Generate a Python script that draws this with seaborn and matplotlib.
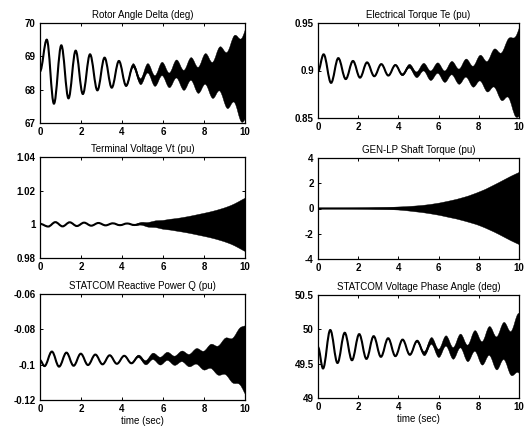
import numpy as np
import pandas as pd
import seaborn as sns
import matplotlib
matplotlib.use("Agg")
import matplotlib.pyplot as plt
from matplotlib.path import Path
from matplotlib.patches import PathPatch

# ---------------- data ----------------
# Each signal: times of the low-frequency extrema, the value at each
# extremum, and the half-width of the fast (torsional) oscillation band.
rotor_t = [0.00, 0.33, 0.68, 1.04, 1.39, 1.74, 2.09, 2.44, 2.80, 3.15, 3.50, 3.85, 4.20, 4.55, 4.91,
           5.26, 5.61, 5.96, 6.31, 6.66, 7.02, 7.37, 7.72, 8.07, 8.42, 8.77, 9.13, 9.48, 9.83, 10.18]
rotor_y = [68.55, 69.50, 67.58, 69.33, 67.74, 69.17, 67.87, 69.06, 67.98, 68.96, 68.06, 68.86, 68.12, 68.72, 68.24,
           68.64, 68.26, 68.62, 68.28, 68.62, 68.28, 68.62, 68.28, 68.62, 68.28, 68.62, 68.28, 68.62, 68.28, 68.62]
rotor_hw = [0, 0, 0, 0, 0, 0, 0, 0, 0, 0, 0, 0.01, 0.03, 0.06, 0.09,
            0.14, 0.16, 0.20, 0.22, 0.27, 0.30, 0.34, 0.39, 0.46, 0.54, 0.66, 0.84, 1.00, 1.25, 1.40]

te_t = [0.00, 0.28, 0.65, 1.01, 1.38, 1.74, 2.09, 2.44, 2.80, 3.15, 3.50, 3.85, 4.20, 4.55, 4.91,
        5.26, 5.61, 5.96, 6.31, 6.66, 7.02, 7.37, 7.72, 8.07, 8.42, 8.77, 9.13, 9.48, 9.83, 10.18]
te_y = [0.899, 0.917, 0.887, 0.913, 0.891, 0.910, 0.8925, 0.9085, 0.894, 0.9067, 0.8947, 0.9057, 0.8955, 0.9045, 0.8955,
        0.9035, 0.8945, 0.9025, 0.8935, 0.9025, 0.8935, 0.9025, 0.8935, 0.9025, 0.8935, 0.9025, 0.8935, 0.9025, 0.8935, 0.9025]
te_hw = [0, 0, 0, 0, 0, 0, 0, 0, 0, 0, 0, 0.0005, 0.001, 0.002, 0.003,
         0.004, 0.005, 0.0055, 0.006, 0.007, 0.008, 0.0095, 0.011, 0.0135, 0.016, 0.020, 0.025, 0.031, 0.042, 0.050]

vt_t = [0.00, 0.40, 0.75, 1.10, 1.45, 1.80, 2.15, 2.50, 2.85, 3.20, 3.55, 3.90, 4.25, 4.60, 4.95,
        5.30, 5.65, 6.00, 6.35, 6.70, 7.05, 7.40, 7.75, 8.10, 8.45, 8.80, 9.15, 9.50, 9.85, 10.20]
vt_y = [1.0003, 0.9987, 1.0013, 0.9988, 1.0012, 0.9990, 1.0010, 0.9992, 1.0008, 0.9994, 1.0006, 0.9995, 1.0005, 0.9996, 1.0003,
        0.9997, 1.0001, 0.9997, 0.9998, 0.9997, 0.9997, 0.9997, 0.9997, 0.9997, 0.9997, 0.9997, 0.9997, 0.9997, 0.9997, 0.9997]
vt_hw = [0, 0, 0, 0, 0, 0, 0, 0, 0, 0, 0, 0, 0, 0.0003, 0.0008,
         0.0014, 0.0020, 0.0026, 0.0032, 0.0038, 0.0045, 0.0053, 0.0062, 0.0071, 0.0081, 0.0093, 0.0107, 0.0125, 0.0148, 0.0170]

shaft_t = [0.0, 1.0, 2.0, 3.0, 4.0, 4.8, 5.6, 6.5, 7.3, 8.1, 9.0, 9.6, 10.0, 10.4]
shaft_y = [0.0, 0.0, 0.0, 0.0, 0.0, -0.03, -0.05, -0.06, -0.05, -0.02, 0.0, 0.0, 0.0, 0.0]
shaft_hw = [0.03, 0.03, 0.04, 0.06, 0.12, 0.22, 0.37, 0.64, 0.95, 1.38, 2.05, 2.55, 2.85, 3.15]

q_t = [0.00, 0.22, 0.58, 0.93, 1.29, 1.64, 1.99, 2.34, 2.70, 3.05, 3.40, 3.75, 4.11, 4.46, 4.81,
       5.16, 5.52, 5.87, 6.22, 6.57, 6.93, 7.28, 7.64, 7.99, 8.34, 8.69, 9.05, 9.40, 9.75, 10.10]
q_y = [-0.0975, -0.1008, -0.0926, -0.1011, -0.0932, -0.1006, -0.0938, -0.1002, -0.0943, -0.0998, -0.0947, -0.0995, -0.0950, -0.0992, -0.0953,
       -0.0989, -0.0953, -0.0980, -0.0953, -0.0978, -0.0953, -0.0977, -0.0953, -0.0977, -0.0953, -0.0977, -0.0953, -0.0977, -0.0953, -0.0977]
q_hw = [0, 0, 0, 0, 0, 0, 0, 0, 0, 0, 0, 0, 0, 0.0003, 0.0007,
        0.0012, 0.0018, 0.0022, 0.0023, 0.0026, 0.0030, 0.0035, 0.0044, 0.0053, 0.0068, 0.0082, 0.0103, 0.0126, 0.0160, 0.0205]

phase_t = [0.00, 0.25, 0.61, 0.97, 1.33, 1.69, 2.05, 2.41, 2.77, 3.13, 3.49, 3.85, 4.21, 4.57, 4.93,
           5.29, 5.65, 6.01, 6.37, 6.73, 7.09, 7.45, 7.81, 8.17, 8.53, 8.89, 9.25, 9.61, 9.97, 10.33]
phase_y = [49.74, 49.43, 49.99, 49.51, 49.95, 49.55, 49.93, 49.57, 49.90, 49.60, 49.87, 49.61, 49.85, 49.63, 49.83,
           49.645, 49.83, 49.65, 49.83, 49.65, 49.83, 49.65, 49.83, 49.65, 49.83, 49.65, 49.83, 49.65, 49.80, 49.65]
phase_hw = [0, 0, 0, 0, 0, 0, 0, 0, 0, 0, 0, 0, 0, 0.005, 0.015,
            0.03, 0.05, 0.06, 0.075, 0.085, 0.10, 0.12, 0.15, 0.17, 0.21, 0.24, 0.27, 0.32, 0.43, 0.46]

titles = ["Rotor Angle Delta (deg)", "Electrical Torque Te (pu)",
          "Terminal Voltage Vt (pu)", "GEN-LP Shaft Torque (pu)",
          "STATCOM Reactive Power Q (pu)", "STATCOM Voltage Phase Angle (deg)"]
x_ticks = [0, 2, 4, 6, 8, 10]
x_ticklabels = ["0", "2", "4", "6", "8", "10"]
rotor_yticks, rotor_ylabels = [67, 68, 69, 70], ["67", "68", "69", "70"]
te_yticks, te_ylabels = [0.85, 0.9, 0.95], ["0.85", "0.9", "0.95"]
vt_yticks, vt_ylabels = [0.98, 1.0, 1.02, 1.04], ["0.98", "1", "1.02", "1.04"]
shaft_yticks, shaft_ylabels = [-4, -2, 0, 2, 4], ["-4", "-2", "0", "2", "4"]
q_yticks, q_ylabels = [-0.12, -0.1, -0.08, -0.06], ["-0.12", "-0.1", "-0.08", "-0.06"]
phase_yticks, phase_ylabels = [49, 49.5, 50, 50.5], ["49", "49.5", "50", "50.5"]
x_label = "time (sec)"

# ---------------- style ----------------
sns.set_theme(style="ticks")
plt.rcParams['font.family'] = ['Liberation Sans', 'DejaVu Sans']
plt.rcParams.update({
    "xtick.direction": "in", "ytick.direction": "in",
    "xtick.top": True, "ytick.right": True,
    "xtick.major.size": 2.5, "ytick.major.size": 2.5,
    "xtick.major.width": 0.7, "ytick.major.width": 0.7,
    "axes.linewidth": 0.9, "axes.edgecolor": "black",
})

W, H = 527, 426
fig = plt.figure(figsize=(W / 100, H / 100), dpi=100)
fig.patch.set_facecolor("white")

# axes boxes in pixels: left, top, right, bottom
boxes = [(40, 23, 245, 123), (318, 23, 519, 118),
         (40, 157, 245, 258), (318, 158, 519, 259),
         (40, 294, 245, 400), (318, 295, 519, 398)]

signals = [(rotor_t, rotor_y, rotor_hw, rotor_yticks, rotor_ylabels),
           (te_t, te_y, te_hw, te_yticks, te_ylabels),
           (vt_t, vt_y, vt_hw, vt_yticks, vt_ylabels),
           (shaft_t, shaft_y, shaft_hw, shaft_yticks, shaft_ylabels),
           (q_t, q_y, q_hw, q_yticks, q_ylabels),
           (phase_t, phase_y, phase_hw, phase_yticks, phase_ylabels)]


def bezier_chain(ts, ys, slopes, k=0.364):
    verts = [(ts[0], ys[0])]
    codes = [Path.MOVETO]
    for i in range(len(ts) - 1):
        dt = ts[i + 1] - ts[i]
        verts += [(ts[i] + k * dt, ys[i] + k * dt * slopes[i]),
                  (ts[i + 1] - k * dt, ys[i + 1] - k * dt * slopes[i + 1]),
                  (ts[i + 1], ys[i + 1])]
        codes += [Path.CURVE4] * 3
    return verts, codes


for idx, (box, sig, title) in enumerate(zip(boxes, signals, titles)):
    l, t, r, b = box
    ax = fig.add_axes([l / W, 1 - b / H, (r - l) / W, (b - t) / H])
    ts, ys, hw, yt, yl = sig
    df = pd.DataFrame({"t": ts, "y": ys, "hw": hw})
    tt = df["t"].to_numpy(float)
    yy = df["y"].to_numpy(float)
    hh = df["hw"].to_numpy(float)
    dh = np.gradient(hh, tt)
    flat = np.zeros_like(tt)
    # band of the fast oscillation
    up_v, up_c = bezier_chain(tt, yy + hh, dh)
    lo_v, lo_c = bezier_chain(tt, yy - hh, -dh)
    verts = up_v + lo_v[::-1] + [lo_v[0]]
    codes = up_c + [Path.LINETO] + [Path.CURVE4] * (len(lo_v) - 1) + [Path.CLOSEPOLY]
    ax.add_patch(PathPatch(Path(verts, codes), facecolor="black", edgecolor="black", lw=0.3))
    # low-frequency curve
    ln_v, ln_c = bezier_chain(tt, yy, flat)
    ax.add_patch(PathPatch(Path(ln_v, ln_c), facecolor="none", edgecolor="black", lw=1.5))

    ax.set_xlim(0, 10)
    ax.set_ylim(yt[0], yt[-1])
    ax.set_xticks(x_ticks, x_ticklabels)
    ax.set_yticks(yt, yl)
    ax.tick_params(labelsize=7, pad=3, colors="black")
    for lab in ax.get_xticklabels() + ax.get_yticklabels():
        lab.set_fontweight("bold")
    ax.set_title(title, fontsize=7, pad=3.5, color="black")
    if idx >= 4:
        ax.set_xlabel(x_label, fontsize=7, labelpad=1, color="black")
    ax.set_facecolor("white")

fig.savefig("out.png", dpi=100, facecolor="white")
